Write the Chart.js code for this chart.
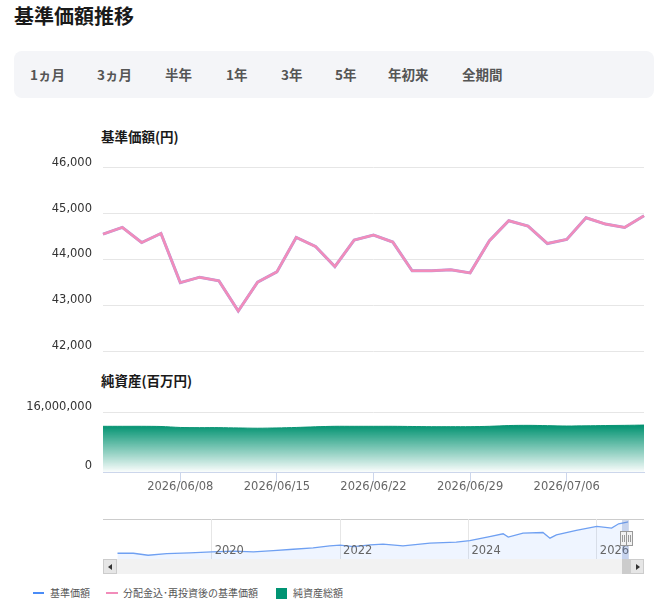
<!DOCTYPE html>
<html lang="ja">
<head>
<meta charset="utf-8">
<title>基準価額推移</title>
<script src="https://cdn.jsdelivr.net/npm/chart.js@4.4.1/dist/chart.umd.min.js"></script>
<style>
body { margin: 0; background: #fff; font-family: "Noto Sans CJK JP", "Noto Sans", sans-serif; }
#wrap { position: relative; width: 654px; height: 608px; overflow: hidden; }
h2 { position: absolute; left: 14px; top: 2px; margin: 0; font-size: 20px; font-weight: 700; color: #1a1a1a; line-height: 28px; }
#periodos { position: absolute; left: 14px; top: 51px; width: 640px; height: 47px; background: #f4f5f8; border-radius: 8px; }
#periodos span { position: absolute; top: 0; line-height: 47px; font-size: 13.5px; font-weight: 700; color: #555; }
.titulo { position: absolute; left: 101px; font-size: 13.5px; line-height: 18px; font-weight: 700; color: #1a1a1a; }
canvas { position: absolute; left: 0; }
#nav-borde { position: absolute; left: 103px; top: 519px; width: 541px; height: 1px; background: #ccc; }
#scroll { position: absolute; left: 103px; top: 559px; width: 541px; height: 15px; background: #f2f2f2; }
.btn { position: absolute; top: 559px; width: 14px; height: 15px; box-sizing: border-box; background: #e6e6e6; border: 1px solid #ccc; }
.btn i { position: absolute; top: 4px; width: 0; height: 0; border-top: 3px solid transparent; border-bottom: 3px solid transparent; }
#btn-izq { left: 103px; }
#btn-izq i { left: 4px; border-right: 4px solid #333; }
#btn-der { left: 630px; }
#btn-der i { left: 5px; border-left: 4px solid #333; }
#thumb { position: absolute; left: 622px; top: 559px; width: 8px; height: 15px; background: #ccc; }
#mascara { position: absolute; left: 622px; top: 520px; width: 7px; height: 39px; background: rgba(102, 133, 194, 0.3); }
.handle { position: absolute; top: 531px; width: 7px; height: 15px; box-sizing: border-box; background: #f2f2f2; border: 1px solid #999; }
.handle i { position: absolute; top: 3px; left: 1px; width: 1px; height: 7px; border-left: 1px solid #999; border-right: 1px solid #999; }
#leyenda { position: absolute; top: 585px; left: 0; width: 654px; height: 16px; font-size: 10px; color: #555; }
#leyenda span { position: absolute; top: 0; line-height: 16px; }
#leyenda b { position: absolute; }
</style>
</head>
<body>
<div id="wrap">
    <h2>基準価額推移</h2>
    <div id="periodos">
        <span style="left:16px">1ヵ月</span>
        <span style="left:83px">3ヵ月</span>
        <span style="left:151px">半年</span>
        <span style="left:212px">1年</span>
        <span style="left:267px">3年</span>
        <span style="left:321px">5年</span>
        <span style="left:374px">年初来</span>
        <span style="left:448px">全期間</span>
    </div>

    <div class="titulo" style="top:127px">基準価額(円)</div>
    <canvas id="chart-kijun" width="654" height="219" style="top:150px"></canvas>

    <div class="titulo" style="top:371px">純資産(百万円)</div>
    <canvas id="chart-junshisan" width="654" height="105" style="top:395px"></canvas>

    <div id="nav-borde"></div>
    <canvas id="chart-nav" width="654" height="40" style="top:519px"></canvas>
    <div id="mascara"></div>
    <div id="scroll"></div>
    <div id="thumb"></div>
    <div class="btn" id="btn-izq"><i></i></div>
    <div class="btn" id="btn-der"><i></i></div>
    <div class="handle" style="left:620px"><i></i></div>
    <div class="handle" style="left:626px"><i></i></div>

    <div id="leyenda">
        <b style="left:33px; top:7px; width:11px; height:2px; background:#4a8cf7"></b>
        <span style="left:50px">基準価額</span>
        <b style="left:106px; top:7px; width:12px; height:2px; background:#f28cba"></b>
        <span style="left:123px">分配金込･再投資後の基準価額</span>
        <b style="left:276px; top:3px; width:11px; height:11px; background:#009473"></b>
        <span style="left:293px">純資産総額</span>
    </div>
</div>

<script>
var fechas = [
    '2026/06/02', '2026/06/03', '2026/06/04', '2026/06/05',
    '2026/06/08', '2026/06/09', '2026/06/10', '2026/06/11', '2026/06/12',
    '2026/06/15', '2026/06/16', '2026/06/17', '2026/06/18', '2026/06/19',
    '2026/06/22', '2026/06/23', '2026/06/24', '2026/06/25', '2026/06/26',
    '2026/06/29', '2026/06/30', '2026/07/01', '2026/07/02', '2026/07/03',
    '2026/07/06', '2026/07/07', '2026/07/08', '2026/07/09', '2026/07/10'
];
var fechas_tick = ['2026/06/08', '2026/06/15', '2026/06/22', '2026/06/29', '2026/07/06'];

// 基準価額 (円)
var kijun = [
    44555, 44700, 44371, 44568,
    43496, 43614, 43533, 42876, 43504,
    43730, 44481, 44284, 43846, 44424,
    44533, 44380, 43752, 43752, 43774,
    43708, 44409, 44846, 44730, 44349,
    44437, 44912, 44774, 44700, 44956
];
// 分配金込・再投資後の基準価額 (円)
var kijun_reinv = [
    44555, 44700, 44371, 44568,
    43496, 43614, 43533, 42876, 43504,
    43730, 44481, 44284, 43846, 44424,
    44533, 44380, 43752, 43752, 43774,
    43708, 44409, 44846, 44730, 44349,
    44437, 44912, 44774, 44700, 44956
];
// 純資産総額
var junshisan = [
    12370000, 12370000, 12370000, 12320000,
    12060000, 12010000, 12010000, 11930000, 11850000,
    11930000, 12060000, 12240000, 12370000, 12370000,
    12370000, 12370000, 12320000, 12270000, 12270000,
    12270000, 12370000, 12580000, 12630000, 12550000,
    12450000, 12500000, 12580000, 12630000, 12710000
];

// navigator (全期間)
var nav_anos = [
    2018.53, 2018.78, 2019.01, 2019.30, 2019.66, 2020.00, 2020.34, 2020.65,
    2020.96, 2021.27, 2021.58, 2021.84, 2022.00, 2022.21, 2022.47, 2022.67,
    2022.98, 2023.40, 2023.81, 2024.02, 2024.33, 2024.54, 2024.62, 2024.85,
    2025.16, 2025.27, 2025.37, 2025.68, 2026.00, 2026.23, 2026.34, 2026.49
];
var nav_valores = [
    10000, 10000, 7800, 9600, 10400, 11500, 12300, 11500,
    12900, 14500, 16000, 18200, 19000, 17400, 19400, 20200,
    18200, 21300, 22400, 24200, 28700, 31800, 28000, 32500,
    33200, 26900, 30600, 35500, 40000, 38200, 43000, 45000
];
var nav_ticks = [2020, 2022, 2024, 2026];

Chart.defaults.font.family = '"DejaVu Sans", "Noto Sans CJK JP", sans-serif';
Chart.defaults.animation = false;

format_numero = function (v) {
    return Number(v).toLocaleString('en-US');
}

function create_chart_kijun() {
    var ctx = document.getElementById('chart-kijun');
    // dataset 0 is drawn on top
    return new Chart(ctx, {
        type: 'line',
        data: {
            labels: fechas,
            datasets: [{
                label: '分配金込･再投資後の基準価額',
                data: kijun_reinv,
                borderColor: '#f28cba',
                borderWidth: 2.5,
                pointRadius: 0,
                tension: 0
            }, {
                label: '基準価額',
                data: kijun,
                borderColor: '#a79ce0',
                borderWidth: 3,
                pointRadius: 0,
                tension: 0
            }]
        },
        options: {
            responsive: false,
            layout: { padding: { left: 0, right: 10, top: 17.3, bottom: 10 } },
            plugins: { legend: { display: false }, tooltip: { enabled: false } },
            scales: {
                x: { display: false },
                y: {
                    min: 42000,
                    max: 46000,
                    afterFit: function (scale) { scale.width = 103; },
                    border: { display: false },
                    grid: { color: '#e6e6e6', drawTicks: false },
                    ticks: {
                        stepSize: 1000,
                        padding: 11,
                        labelOffset: -5,
                        color: '#333',
                        font: { size: 11.5 },
                        callback: format_numero
                    }
                }
            }
        }
    });
}

function create_chart_junshisan() {
    var ctx = document.getElementById('chart-junshisan');
    return new Chart(ctx, {
        type: 'line',
        data: {
            labels: fechas,
            datasets: [{
                label: '純資産総額',
                data: junshisan,
                borderColor: '#0a9474',
                borderWidth: 1,
                pointRadius: 0,
                tension: 0.3,
                fill: 'start',
                backgroundColor: function (context) {
                    var chart = context.chart;
                    var area = chart.chartArea;
                    if (!area) return null;
                    var top = chart.scales.y.getPixelForValue(Math.max.apply(null, junshisan));
                    var g = chart.ctx.createLinearGradient(0, top, 0, area.bottom);
                    g.addColorStop(0, 'rgba(0,146,112,1)');
                    g.addColorStop(1, 'rgba(0,146,112,0.02)');
                    return g;
                }
            }]
        },
        options: {
            responsive: false,
            layout: { padding: { left: 0, right: 10, top: 15.3, bottom: 0 } },
            plugins: { legend: { display: false }, tooltip: { enabled: false } },
            scales: {
                x: {
                    afterFit: function (scale) { scale.height = 28; },
                    afterBuildTicks: function (scale) {
                        scale.ticks = scale.ticks.filter(function (t) {
                            return fechas_tick.indexOf(fechas[t.value]) >= 0;
                        });
                    },
                    border: { display: true, color: '#ccd6eb', width: 1 },
                    grid: { drawOnChartArea: false, tickLength: 10, tickColor: '#ccd6eb' },
                    ticks: {
                        autoSkip: false,
                        maxRotation: 0,
                        padding: -2,
                        color: '#666',
                        font: { size: 11.5 },
                        callback: function (v) { return fechas[v]; }
                    }
                },
                y: {
                    min: 0,
                    max: 16000000,
                    afterFit: function (scale) { scale.width = 103; },
                    border: { display: false },
                    grid: {
                        drawTicks: false,
                        color: function (c) { return c.tick && c.tick.value === 0 ? 'rgba(0,0,0,0)' : '#e6e6e6'; }
                    },
                    ticks: {
                        stepSize: 16000000,
                        padding: 11,
                        labelOffset: -6,
                        color: '#333',
                        font: { size: 11.5 },
                        callback: format_numero
                    }
                }
            }
        }
    });
}

function create_chart_nav() {
    var ctx = document.getElementById('chart-nav');
    var puntos = [];
    for (var i = 0; i < nav_anos.length; i++) {
        puntos.push({ x: nav_anos[i], y: nav_valores[i] });
    }
    return new Chart(ctx, {
        type: 'line',
        data: {
            datasets: [{
                data: puntos,
                borderColor: '#6fa0f2',
                borderWidth: 1.3,
                pointRadius: 0,
                tension: 0,
                fill: 'start',
                backgroundColor: 'rgba(102,153,255,0.1)'
            }]
        },
        options: {
            responsive: false,
            layout: { padding: { left: 117.3, right: 25.7, top: 0, bottom: 0 } },
            plugins: { legend: { display: false }, tooltip: { enabled: false } },
            scales: {
                x: {
                    type: 'linear',
                    min: 2018.53,
                    max: 2026.49,
                    afterFit: function (scale) { scale.height = 0; },
                    afterBuildTicks: function (scale) {
                        scale.ticks = nav_ticks.map(function (v) { return { value: v }; });
                    },
                    border: { display: false },
                    grid: { color: '#e6e6e6', drawTicks: false },
                    // mirror: labels inside the plot, no clipping to the 0 px axis box
                    ticks: {
                        z: 1,
                        mirror: true,
                        align: 'start',
                        labelOffset: 3,
                        padding: 1,
                        color: '#666',
                        font: { size: 11.5 },
                        callback: function (v) { return String(v); }
                    }
                },
                y: { display: false, min: 3600, max: 48300 }
            }
        }
    });
}

create_chart_kijun();
create_chart_junshisan();
create_chart_nav();
</script>
</body>
</html>
